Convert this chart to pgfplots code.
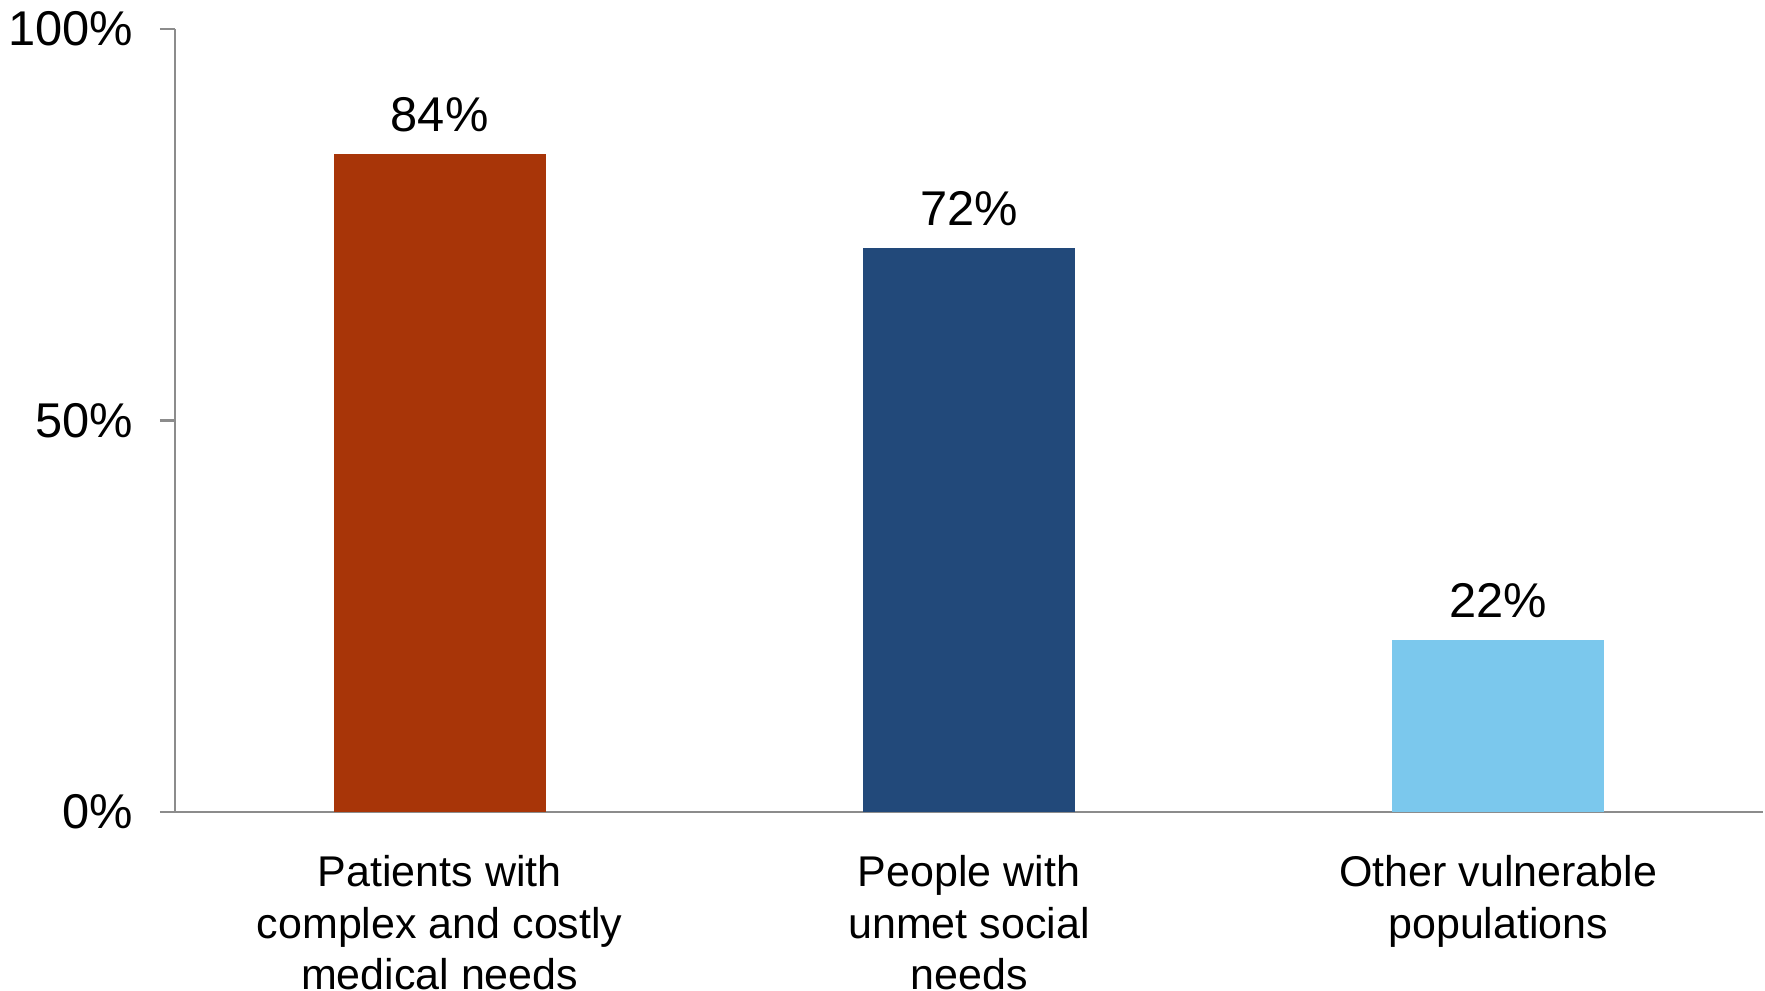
\documentclass[border=0pt]{standalone}
\usepackage{pgfplots}
\pgfplotsset{compat=1.18}
\usepackage{fontspec}
\setmainfont{Liberation Sans}
\definecolor{c1}{HTML}{A83508}
\definecolor{c2}{HTML}{22497A}
\definecolor{c3}{HTML}{7BC8ED}
\definecolor{axgray}{HTML}{8C8C8C}
\begin{document}
\begin{tikzpicture}
\useasboundingbox (-43.75pt,-44.5pt) rectangle (397.5pt,203pt);
\begin{axis}[
  at={(0pt,0pt)}, anchor=south west,
  scale only axis, width=397pt, height=195.75pt,
  xmin=-0.5, xmax=2.5, ymin=0, ymax=100,
  axis lines*=left,
  axis line style={axgray, line width=0.6pt},
  /pgf/number format/assume math mode=true,
  font=\fontsize{12.2}{12.9}\selectfont,
  ytick={0,50,100},
  yticklabels={0\%,50\%,100\%},
  ytick style={axgray, line width=0.6pt},
  tick align=outside,
  major tick length=3.75pt,
  yticklabel style={xshift=-3.2pt},
  xtick={0,1,2},
  xticklabels={{Patients with\\complex and costly\\medical needs},{People with\\unmet social\\needs},{Other vulnerable\\populations}},
  xtick style={draw=none},
  xticklabel style={align=center, yshift=-3.5pt, font=\fontsize{10.75}{12.95}\selectfont},
  ybar, bar width=0.4, bar shift=0pt,
  nodes near coords={\pgfmathprintnumber{\pgfplotspointmeta}\%},
  every node near coord/.append style={font=\fontsize{12.2}{12.9}\selectfont, yshift=2pt},
]
\addplot[fill=c1, draw=none] coordinates {(0,84)};
\addplot[fill=c2, draw=none] coordinates {(1,72)};
\addplot[fill=c3, draw=none] coordinates {(2,22)};
\end{axis}
\end{tikzpicture}
\end{document}
